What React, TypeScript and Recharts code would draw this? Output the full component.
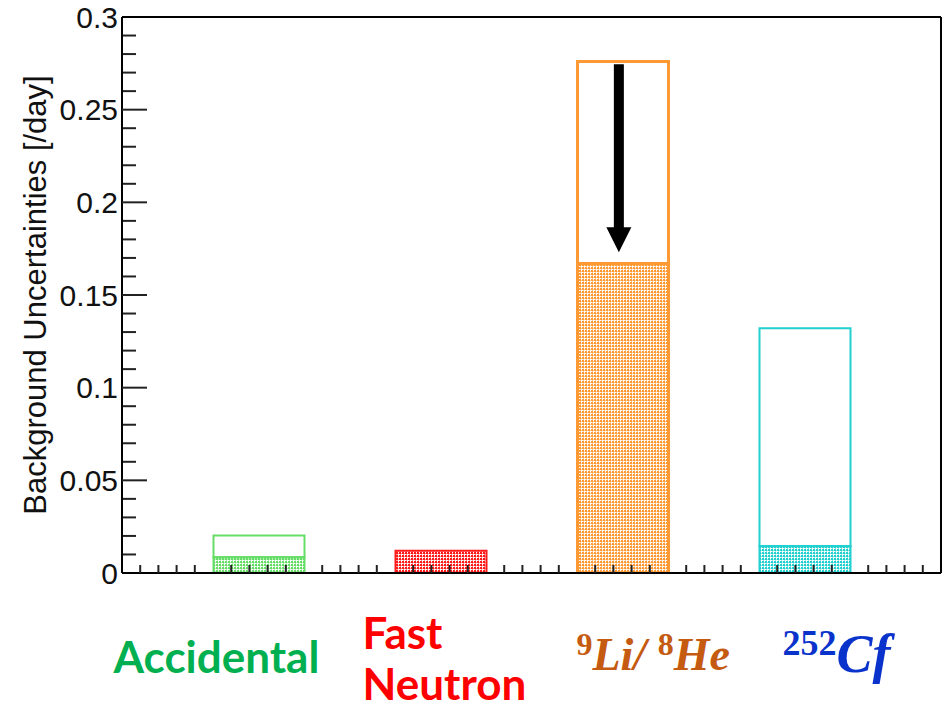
import {
  BarChart, Bar, Cell, XAxis, YAxis, ReferenceLine,
} from 'recharts';

// bin centers on a 0..45 axis (bars span 5 units each)
const centers    = [7.5, 17.5, 27.5, 37.5];
const names      = ['Accidental', 'Fast Neutron', '9Li/8He', '252Cf'];
const totals     = [0.0203, 0.012, 0.276, 0.132];   // open boxes
const filled     = [0.0085, 0.012, 0.167, 0.0146];  // hatched part
const yMajor     = [0, 0.05, 0.1, 0.15, 0.2, 0.25, 0.3];
const yMinor     = [0.01, 0.02, 0.03, 0.04, 0.06, 0.07, 0.08, 0.09, 0.11, 0.12, 0.13, 0.14,
                    0.16, 0.17, 0.18, 0.19, 0.21, 0.22, 0.23, 0.24, 0.26, 0.27, 0.28, 0.29];
const xTicks     = [1, 2, 3, 4, 6, 7, 8, 9, 11, 12, 13, 14, 16, 17, 18, 19, 21, 22, 23, 24,
                    26, 27, 28, 29, 31, 32, 33, 34, 36, 37, 38, 39, 41, 42, 43, 44];
// arrow in the 9Li/8He bin: from the total down towards the hatched level
const arrowX     = 27.3;
const arrowFrom  = 0.2745;
const arrowTo    = 0.173;

const lineColors = ['#66dd66', '#ff1a1a', '#ff9933', '#22d0d0'];
const tintColors = ['#b3eeb3', '#ff9a9a', '#ffcc99', '#99e8e8'];
const hatchIds   = ['hatchGreen', 'hatchRed', 'hatchOrange', 'hatchCyan'];

const data = centers.map((x, i) => ({
  x,
  name: names[i],
  low: filled[i],
  high: Math.max(totals[i] - filled[i], 0),
}));

const FONT = '"Liberation Sans", Arial, Helvetica, sans-serif';

function Arrow(p: any) {
  const { x1, y1, y2 } = p;
  const sw = 5, hw = 12.5, head = 25;
  const yb = y2 - head;
  return (
    <path
      d={`M${x1 - sw},${y1} L${x1 + sw},${y1} L${x1 + sw},${yb} L${x1 + hw},${yb} L${x1},${y2} L${x1 - hw},${yb} L${x1 - sw},${yb} Z`}
      fill="#000"
    />
  );
}

const noLabel = () => <g />;

function CategoryTick({ x, payload }: any) {
  const i = centers.indexOf(payload.value);
  if (i === 0) {
    return (
      <text x={x - 42} y={673} textAnchor="middle" fill="#00b050"
        fontFamily="Lato, sans-serif" fontWeight="bold" fontSize={44}>
        Accidental
      </text>
    );
  }
  if (i === 1) {
    return (
      <g fill="#ff0000" fontFamily="Lato, sans-serif" fontWeight="bold" fontSize={44}>
        <text x={x - 78} y={649}>Fast</text>
        <text x={x - 78} y={700}>Neutron</text>
      </g>
    );
  }
  if (i === 2) {
    return (
      <text x={x - 46} y={670} fill="#c55a11" fontFamily='"Liberation Serif", serif'
        fontStyle="italic" fontWeight="bold" fontSize={46}>
        <tspan fontSize={32} fontStyle="normal" dy={-15}>9</tspan>
        <tspan dy={15}>Li/ </tspan>
        <tspan fontSize={32} fontStyle="normal" dy={-15}>8</tspan>
        <tspan dy={15}>He</tspan>
      </text>
    );
  }
  return (
    <text x={x - 22} y={672} fill="#0a33cc" fontFamily='"Liberation Serif", serif'
      fontStyle="italic" fontWeight="bold" fontSize={54}>
      <tspan fontSize={36} fontStyle="normal" dy={-17}>252</tspan>
      <tspan dy={17}>Cf</tspan>
    </text>
  );
}

export default function App() {
  return (
    <div style={{ position: 'absolute', left: 0, top: 0, width: 944, height: 710, background: '#fff' }}>
      <BarChart
        width={944}
        height={710}
        data={data}
        margin={{ top: 17, right: 3, left: 0, bottom: 0 }}
      >
        <defs>
          {hatchIds.map((id, i) => (
            <pattern key={id} id={id} x={0} y={0} width={3} height={3} patternUnits="userSpaceOnUse">
              <rect x={0} y={0} width={3} height={3} style={{ fill: '#ffffff' }} />
              <rect x={0} y={0} width={2} height={2} style={{ fill: lineColors[i] }} />
              <rect x={2} y={1} width={1} height={1} style={{ fill: tintColors[i] }} />
              <rect x={1} y={2} width={1} height={1} style={{ fill: tintColors[i] }} />
            </pattern>
          ))}
        </defs>

        <XAxis
          xAxisId="x"
          type="number"
          dataKey="x"
          domain={[0, 45]}
          allowDataOverflow
          ticks={centers}
          height={137}
          tickLine={false}
          axisLine={{ stroke: '#000', strokeWidth: 2 }}
          tick={<CategoryTick />}
        />
        <YAxis
          yAxisId="y"
          type="number"
          domain={[0, 0.3]}
          allowDataOverflow
          ticks={yMajor}
          width={122}
          tickLine={false}
          tickSize={0}
          tickMargin={4}
          axisLine={{ stroke: '#000', strokeWidth: 2 }}
          tick={{ fill: '#111', fontSize: 30, fontFamily: FONT }}
          label={({ viewBox }: any) => {
            const cx = 46;
            const cy = viewBox.y + viewBox.height / 2;
            return (
              <text x={cx} y={cy} transform={`rotate(-90 ${cx} ${cy})`} textAnchor="middle"
                fill="#111" fontSize={31} fontFamily={FONT}>
                Background Uncertainties [/day]
              </text>
            );
          }}
        />

        <Bar xAxisId="x" yAxisId="y" dataKey="low" stackId="s" barSize={91} isAnimationActive={false}>
          {data.map((d, i) => (
            <Cell key={d.name} fill={`url(#${hatchIds[i]}) ${tintColors[i]}`} stroke={lineColors[i]} strokeWidth={i === 2 ? 3 : 2} />
          ))}
        </Bar>
        <Bar xAxisId="x" yAxisId="y" dataKey="high" stackId="s" barSize={91} isAnimationActive={false}>
          {data.map((d, i) => (
            <Cell key={d.name} fill="none" stroke={lineColors[i]} strokeWidth={i === 2 ? 3 : 2} />
          ))}
        </Bar>

        {/* inward tick marks, ROOT style */}
        <XAxis
          xAxisId="xt"
          type="number"
          dataKey="x"
          domain={[0, 45]}
          allowDataOverflow
          ticks={xTicks}
          interval={0}
          mirror
          height={1}
          tick={noLabel}
          axisLine={false}
          tickSize={8}
          tickLine={{ stroke: '#222', strokeWidth: 2 }}
        />
        <YAxis
          yAxisId="ymin"
          type="number"
          domain={[0, 0.3]}
          allowDataOverflow
          ticks={yMinor}
          interval={0}
          mirror
          width={1}
          tick={noLabel}
          axisLine={false}
          tickSize={13}
          tickLine={{ stroke: '#222', strokeWidth: 2 }}
        />
        <YAxis
          yAxisId="ymaj"
          type="number"
          domain={[0, 0.3]}
          allowDataOverflow
          ticks={yMajor.slice(1, -1)}
          interval={0}
          mirror
          width={1}
          tick={noLabel}
          axisLine={false}
          tickSize={25}
          tickLine={{ stroke: '#222', strokeWidth: 2 }}
        />

        {/* frame: top and right edges */}
        <ReferenceLine xAxisId="x" yAxisId="y" y={0.3} stroke="#000" strokeWidth={2} />
        <ReferenceLine xAxisId="x" yAxisId="y" x={45} stroke="#000" strokeWidth={2} />

        <ReferenceLine
          xAxisId="x"
          yAxisId="y"
          segment={[{ x: arrowX, y: arrowFrom }, { x: arrowX, y: arrowTo }]}
          shape={<Arrow />}
        />
      </BarChart>
    </div>
  );
}
